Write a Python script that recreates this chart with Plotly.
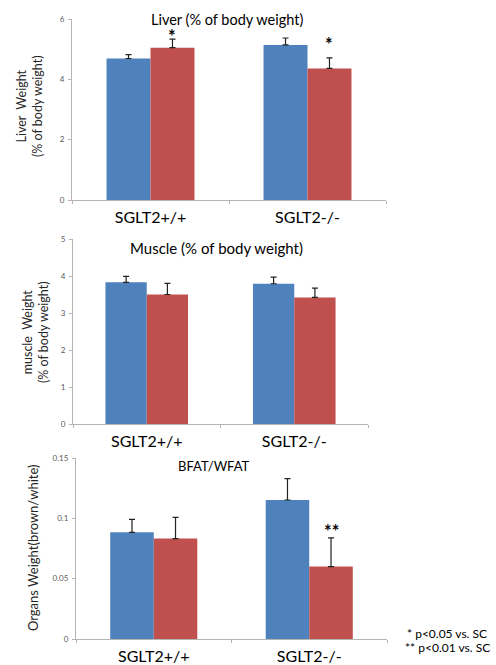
import plotly.graph_objects as go

categories = ["SGLT2+/+", "SGLT2-/-"]

liver_blue = [4.69, 5.14]
liver_blue_err = [0.13, 0.23]
liver_red = [5.05, 4.36]
liver_red_err = [0.28, 0.35]

muscle_blue = [3.83, 3.79]
muscle_blue_err = [0.16, 0.18]
muscle_red = [3.50, 3.42]
muscle_red_err = [0.30, 0.25]

fat_blue = [0.0884, 0.1152]
fat_blue_err = [0.0108, 0.0177]
fat_red = [0.0832, 0.0600]
fat_red_err = [0.0176, 0.0238]

liver_marks = ["*", "*"]
liver_mark_y = [5.56, 5.30]
fat_marks = ["", "**"]
fat_mark_y = [0, 0.0928]

liver_ticks = [0, 2, 4, 6]
muscle_ticks = [0, 1, 2, 3, 4, 5]
fat_ticks = [0, 0.05, 0.1, 0.15]
fat_ticktext = ["0", "0.05", "0.1", "0.15"]

BLUE = "#4F81BD"
RED = "#C0504D"
AXIS = "#B5B5B5"
FONT = "Lato"
W, H = 496, 665

fig = go.Figure()

panels = [
    (liver_blue, liver_blue_err, liver_red, liver_red_err, "x", "y"),
    (muscle_blue, muscle_blue_err, muscle_red, muscle_red_err, "x2", "y2"),
    (fat_blue, fat_blue_err, fat_red, fat_red_err, "x3", "y3"),
]
for b, be, r, re_, xa, ya in panels:
    for vals, err, col in [(b, be, BLUE), (r, re_, RED)]:
        fig.add_trace(go.Bar(
            x=categories, y=vals, marker=dict(color=col, line=dict(width=0)),
            error_y=dict(type="data", array=err, arrayminus=[0] * len(err), symmetric=False,
                         color="#222222", thickness=1.2, width=3),
            xaxis=xa, yaxis=ya, showlegend=False, hoverinfo="y",
        ))

def px_x(a, b):
    return [a / W, b / W]

def px_y(top, bottom):
    return [1 - bottom / H, 1 - top / H]

xdoms = [px_x(72, 386), px_x(73, 368), px_x(76, 387)]
ydoms = [px_y(19, 200), px_y(239, 424), px_y(458, 639)]
yranges = [[0, 6], [0, 5], [0, 0.15]]
ytv = [liver_ticks, muscle_ticks, fat_ticks]
ytt = [[str(v) for v in liver_ticks], [str(v) for v in muscle_ticks], fat_ticktext]

layout = dict(
    template="none",
    width=W, height=H, margin=dict(l=0, r=0, t=0, b=0, autoexpand=False),
    paper_bgcolor="white", plot_bgcolor="white",
    barmode="group", bargap=0.44, bargroupgap=0,
    font=dict(family=FONT, color="#000000"),
    showlegend=False,
)
for i in range(3):
    sx = "" if i == 0 else str(i + 1)
    layout["xaxis" + sx] = dict(
        domain=xdoms[i], anchor="y" + sx, type="category", automargin=False,
        showline=True, linecolor=AXIS, linewidth=1,
        ticks="outside", ticklen=3, tickcolor=AXIS, tickson="boundaries",
        ticklabelstandoff=3,
        tickfont=dict(size=16, color="#000000", family=FONT),
        showgrid=False, zeroline=False,
    )
    layout["yaxis" + sx] = dict(
        domain=ydoms[i], anchor="x" + sx, range=yranges[i], automargin=False,
        tickvals=ytv[i], ticktext=ytt[i],
        showline=True, linecolor=AXIS, linewidth=1,
        ticks="outside", ticklen=3, tickcolor=AXIS, ticklabelstandoff=2,
        tickfont=dict(size=8, color="#595959", family=FONT),
        showgrid=False, zeroline=False,
    )
fig.update_layout(**layout)

ann = []
# panel titles
ann.append(dict(text="Liver (% of body weight)", x=227 / W, y=1 - 19 / H, xref="paper", yref="paper",
                showarrow=False, font=dict(size=14.5, family=FONT), xanchor="center", yanchor="middle"))
ann.append(dict(text="Muscle (% of body weight)", x=216 / W, y=1 - 248 / H, xref="paper", yref="paper",
                showarrow=False, font=dict(size=15, family=FONT), xanchor="center", yanchor="middle"))
ann.append(dict(text="BFAT/WFAT", x=214 / W, y=1 - 466 / H, xref="paper", yref="paper",
                showarrow=False, font=dict(size=13, family=FONT), xanchor="center", yanchor="middle"))
# y titles
ann.append(dict(text="Liver  Weight<br>(% of body weight)", x=29 / W, y=1 - 106 / H, xref="paper", yref="paper",
                showarrow=False, textangle=-90, font=dict(size=12.5, family=FONT, color="#262626"),
                xanchor="center", yanchor="middle"))
ann.append(dict(text="muscle  Weight<br>(% of body weight)", x=35 / W, y=1 - 332 / H, xref="paper", yref="paper",
                showarrow=False, textangle=-90, font=dict(size=12.5, family=FONT, color="#262626"),
                xanchor="center", yanchor="middle"))
ann.append(dict(text="Organs Weight(brown/white)", x=33 / W, y=1 - 548 / H, xref="paper", yref="paper",
                showarrow=False, textangle=-90, font=dict(size=13, family=FONT, color="#262626"),
                xanchor="center", yanchor="middle"))
# significance marks above red bars
for i, m in enumerate(liver_marks):
    if m:
        ann.append(dict(text="<b>" + m + "</b>", x=i + 0.14, y=liver_mark_y[i], xref="x", yref="y",
                        showarrow=False, yanchor="middle", yshift=-4, font=dict(size=18, family=FONT)))
for i, m in enumerate(fat_marks):
    if m:
        ann.append(dict(text="<b>" + m + "</b>", x=i + 0.14, y=fat_mark_y[i], xref="x3", yref="y3",
                        showarrow=False, yanchor="middle", yshift=-4, font=dict(size=18, family=FONT)))
# footnotes
ann.append(dict(text="* p<0.05 vs. SC", x=405 / W, y=1 - 633 / H, xref="paper", yref="paper",
                showarrow=False, xanchor="left", yanchor="middle", font=dict(size=12, family=FONT)))
ann.append(dict(text="** p<0.01 vs. SC", x=403 / W, y=1 - 647 / H, xref="paper", yref="paper",
                showarrow=False, xanchor="left", yanchor="middle", font=dict(size=12, family=FONT)))
fig.update_layout(annotations=ann)

fig.write_html("out.html", config={"displayModeBar": False},
               post_script="document.body.style.margin='0';document.body.style.overflow='hidden';")
